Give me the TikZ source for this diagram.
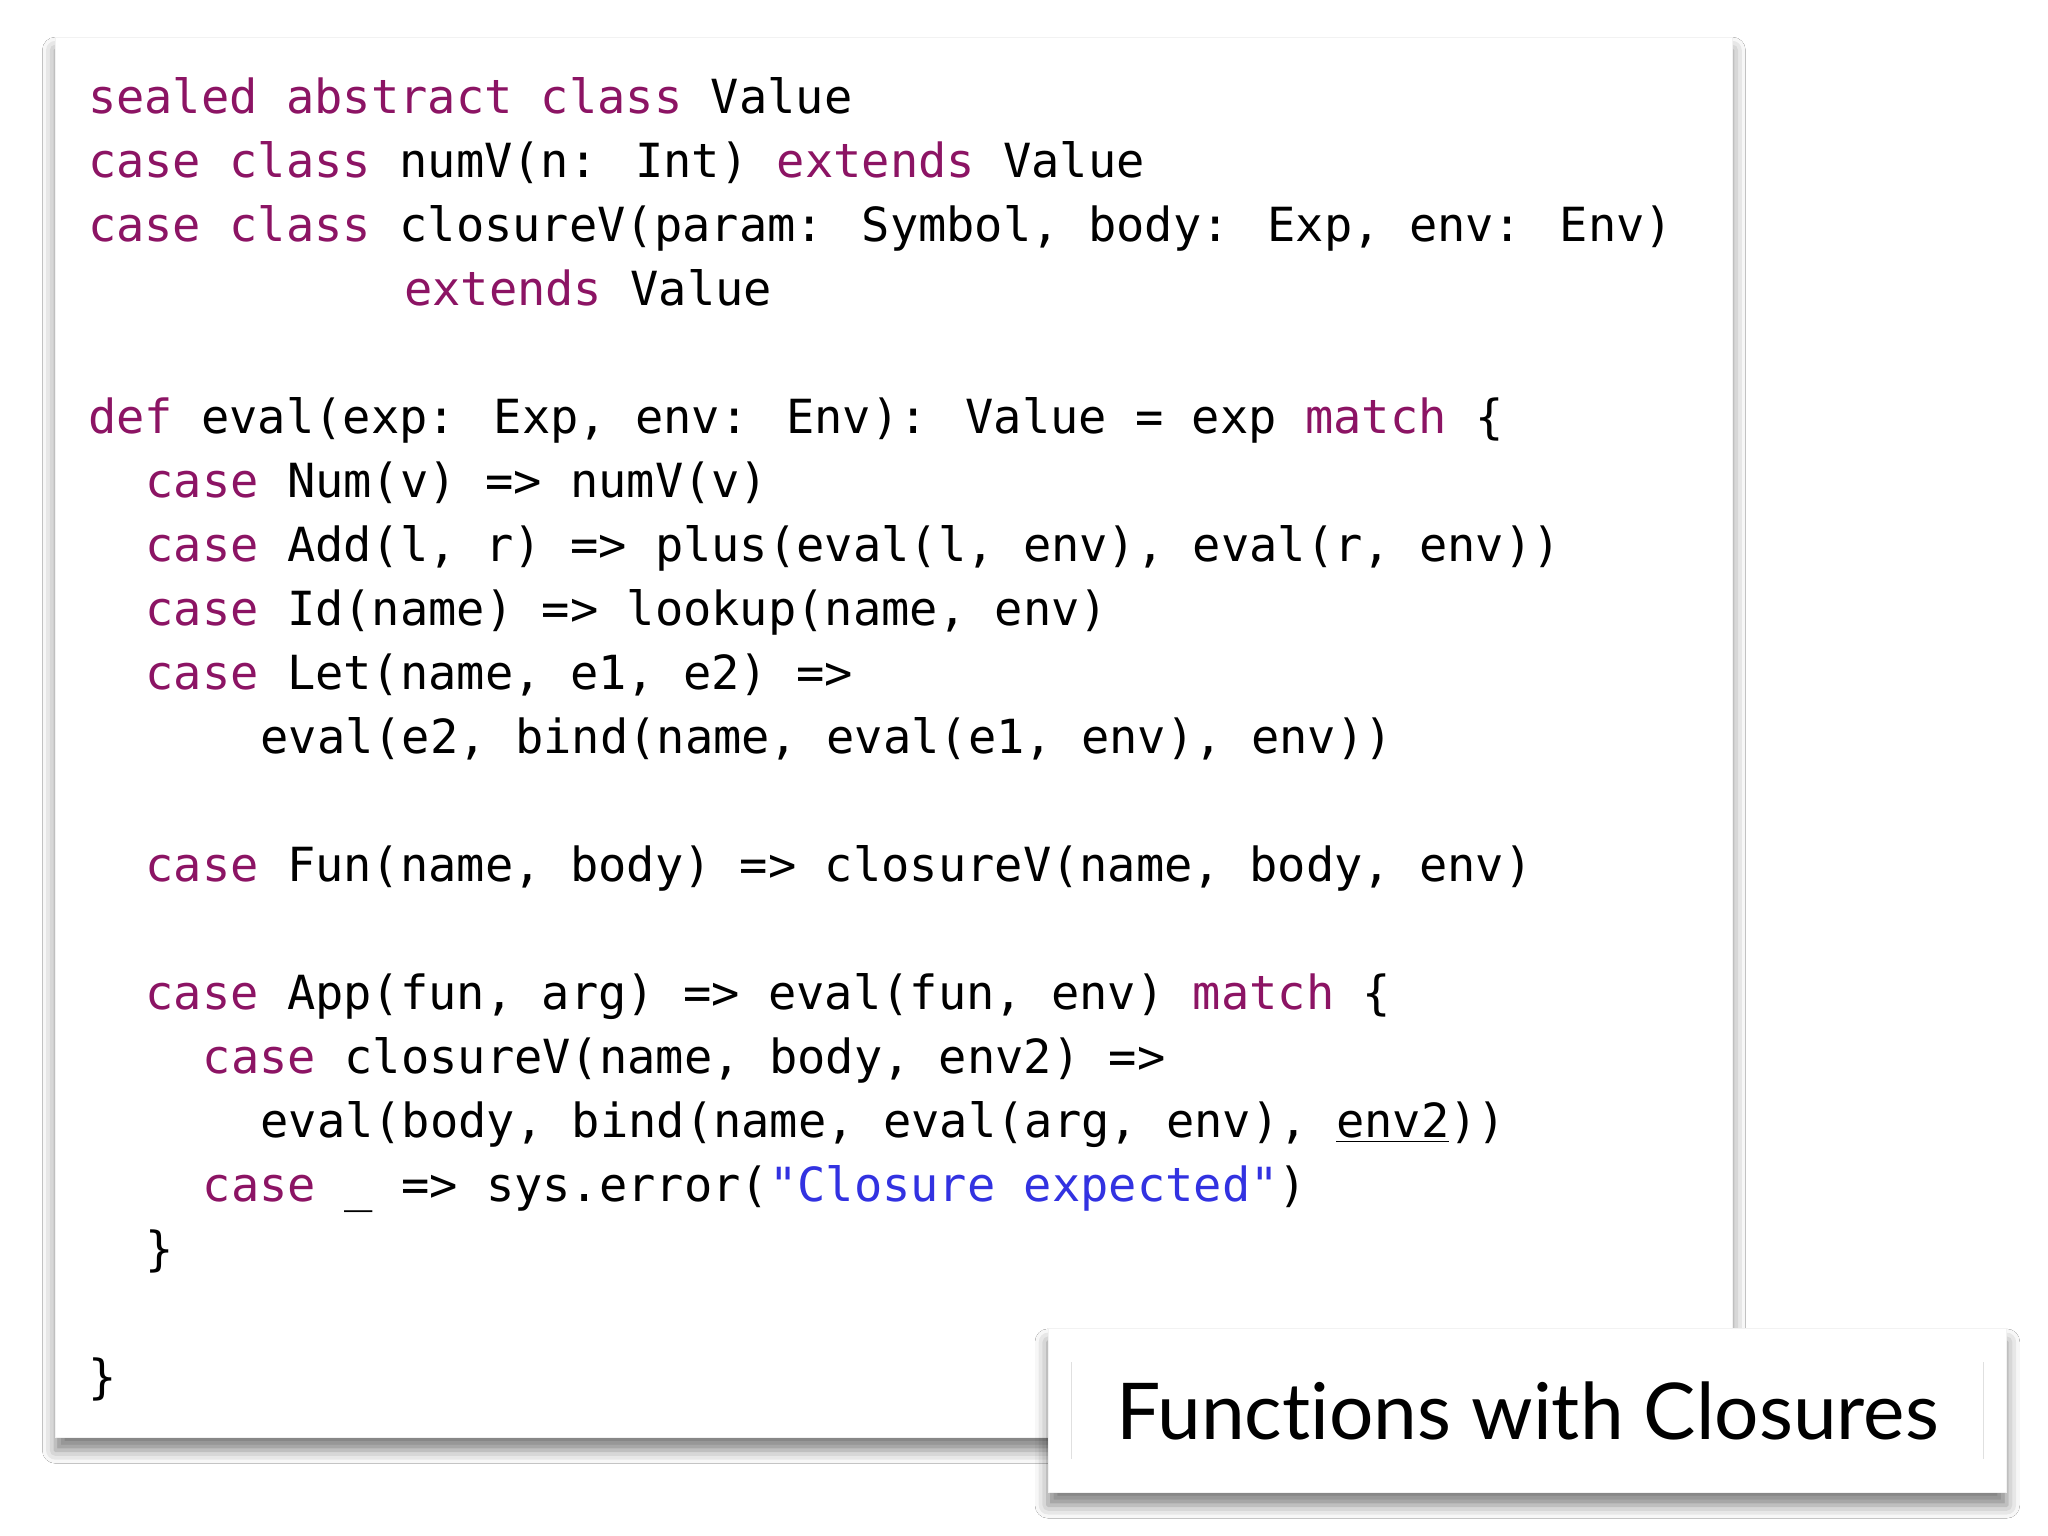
\documentclass[tikz,border=0pt]{standalone}
\usepackage{fontspec}
\newfontfamily\code{DejaVu Sans Mono}
\newfontfamily\ttl[Ligatures={NoCommon}]{Lato}
\usetikzlibrary{shadows.blur}
\definecolor{kw}{RGB}{140,20,100}
\definecolor{str}{RGB}{50,50,225}
\newcommand\kw[1]{\textcolor{kw}{#1}}
\tikzset{ln/.style={anchor=base west,inner sep=0pt,font=\code\fontsize{18.0}{22}\selectfont},
 panel/.style={fill=white,draw=black!5,blur shadow={shadow xshift=0pt,shadow yshift=-5pt,shadow blur radius=5pt,shadow opacity=50}}}
\newcommand\codeline[3]{\node[ln] (l#1) at ({33.5pt+#2*11pt},{-(#1*49+38)*0.5pt}) {#3};}
\begin{document}
\begin{tikzpicture}
\useasboundingbox (0,0) rectangle (784pt,-588pt);
\fill[white] (0,0) rectangle (784pt,-588pt);
\node[panel,minimum width=642pt,minimum height=536pt,anchor=north west,inner sep=0pt] (panel) at (21pt,-14pt) {};
\codeline{1}{0}{\kw{sealed abstract class} Value}
\codeline{2}{0}{\kw{case class} numV(n: Int) \kw{extends} Value}
\codeline{3}{0}{\kw{case class} closureV(param: Symbol, body: Exp, env: Env)}
\codeline{4}{11}{\kw{extends} Value}
\codeline{6}{0}{\kw{def} eval(exp: Exp, env: Env): Value = exp \kw{match} \{}
\codeline{7}{2}{\kw{case} Num(v) => numV(v)}
\codeline{8}{2}{\kw{case} Add(l, r) => plus(eval(l, env), eval(r, env))}
\codeline{9}{2}{\kw{case} Id(name) => lookup(name, env)}
\codeline{10}{2}{\kw{case} Let(name, e1, e2) =>}
\codeline{11}{6}{eval(e2, bind(name, eval(e1, env), env))}
\codeline{13}{2}{\kw{case} Fun(name, body) => closureV(name, body, env)}
\codeline{15}{2}{\kw{case} App(fun, arg) => eval(fun, env) \kw{match} \{}
\codeline{16}{4}{\kw{case} closureV(name, body, env2) =>}
\codeline{17}{6}{eval(body, bind(name, eval(arg, env), \underline{env2}))}
\codeline{18}{4}{\kw{case} \_ => sys.error(\textcolor{str}{"Closure expected"})}
\codeline{19}{2}{\}}
\codeline{21}{0}{\}}
\node[panel,minimum width=367pt,minimum height=62.5pt,anchor=north west,inner sep=0pt] (title) at (401pt,-508.5pt) {};
\draw[black!12] ([xshift=9pt,yshift=-13pt]title.north west) -- ([xshift=9pt,yshift=13pt]title.south west);
\draw[black!12] ([xshift=-9pt,yshift=-13pt]title.north east) -- ([xshift=-9pt,yshift=13pt]title.south east);
\node[font=\ttl\fontsize{30}{36}\selectfont,inner sep=0pt] (tt) at (title.center) {Functions with Closures};
\end{tikzpicture}
\end{document}
